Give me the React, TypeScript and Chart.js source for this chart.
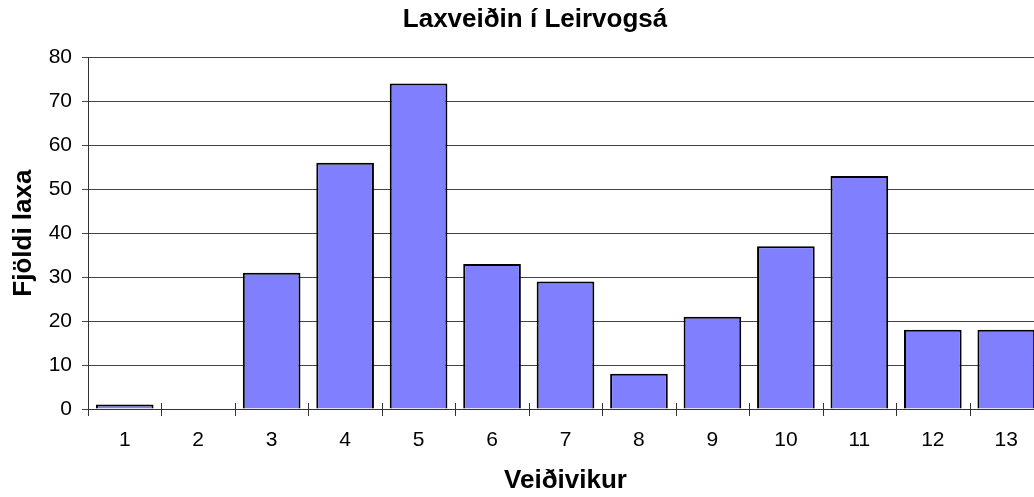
import React, { useEffect, useRef } from 'react';
import { Chart, registerables } from 'chart.js';

Chart.register(...registerables);

const chartTitle = 'Laxveiðin í Leirvogsá';
const xAxisTitle = 'Veiðivikur';
const yAxisTitle = 'Fjöldi laxa';
const weeks = ['1', '2', '3', '4', '5', '6', '7', '8', '9', '10', '11', '12', '13'];
const fishCount = [1, 0, 31, 56, 74, 33, 29, 8, 21, 37, 53, 18, 18];
const yMin = 0;
const yMax = 80;
const yStep = 10;

const FONT = "'Liberation Sans', Arial, sans-serif";

const crossTicks = {
  id: 'crossTicks',
  afterDatasetsDraw(chart: any) {
    const xs = chart.scales.x;
    const ys = chart.scales.y;
    const n = weeks.length;
    const ctx = chart.ctx;
    const y0 = ys.getPixelForValue(0);
    ctx.save();
    ctx.strokeStyle = '#333';
    ctx.lineWidth = 1;
    for (let i = 0; i <= n; i++) {
      const px = Math.round(xs.left + (i * xs.width) / n) + 0.5;
      ctx.beginPath();
      ctx.moveTo(px, y0 - 6);
      ctx.lineTo(px, y0 + 7);
      ctx.stroke();
    }
    ctx.restore();
  },
};

export default function App() {
  const ref = useRef<HTMLCanvasElement | null>(null);
  useEffect(() => {
    if (!ref.current) return;
    const chart = new Chart(ref.current, {
      type: 'bar',
      data: {
        labels: weeks,
        datasets: [
          {
            data: fishCount,
            backgroundColor: '#8080FF',
            borderColor: '#000000',
            borderWidth: 2,
            categoryPercentage: 1,
            barPercentage: 0.785,
            yAxisID: 'y',
          },
        ],
      },
      options: {
        responsive: false,
        animation: false,
        layout: { padding: 0 },
        plugins: {
          legend: { display: false },
          tooltip: { enabled: false },
          title: {
            display: true,
            text: chartTitle,
            color: '#000',
            font: { family: FONT, size: 26, weight: 'bold' },
            padding: { top: 4, bottom: 22 },
          },
        },
        scales: {
          x: {
            offset: true,
            grid: { display: false },
            border: { display: true, color: '#333', width: 1 },
            ticks: {
              color: '#000',
              font: { family: FONT, size: 21 },
              padding: 11,
              maxRotation: 0,
            },
            title: {
              display: true,
              text: xAxisTitle,
              color: '#000',
              font: { family: FONT, size: 26, weight: 'bold' },
              padding: { top: 0, bottom: 1 },
            },
            afterFit(scale: any) {
              scale.height = 88;
            },
          },
          y: {
            min: yMin,
            max: yMax,
            position: 'left',
            grid: {
              color: '#444',
              lineWidth: 1,
              drawTicks: true,
              tickLength: 6,
            },
            border: { display: true, color: '#333', width: 1 },
            ticks: {
              stepSize: yStep,
              color: '#000',
              font: { family: FONT, size: 21 },
              padding: 10,
            },
            title: {
              display: true,
              text: yAxisTitle,
              color: '#000',
              font: { family: FONT, size: 26, weight: 'bold' },
              padding: { top: 8, bottom: 0 },
            },
            afterFit(scale: any) {
              scale.width = 88;
            },
          },
          spacer: {
            type: 'linear',
            position: 'right',
            display: true,
            grid: { display: false },
            border: { display: false },
            ticks: { display: false },
            afterFit(scale: any) {
              scale.width = 27;
            },
          },
        },
      },
      plugins: [crossTicks],
    });
    return () => chart.destroy();
  }, []);
  return (
    <div
      style={{
        position: 'fixed',
        left: 0,
        top: 0,
        width: 1034,
        height: 497,
        overflow: 'hidden',
        background: '#fff',
      }}
    >
      <canvas ref={ref} width={1070} height={497} style={{ display: 'block' }} />
    </div>
  );
}
